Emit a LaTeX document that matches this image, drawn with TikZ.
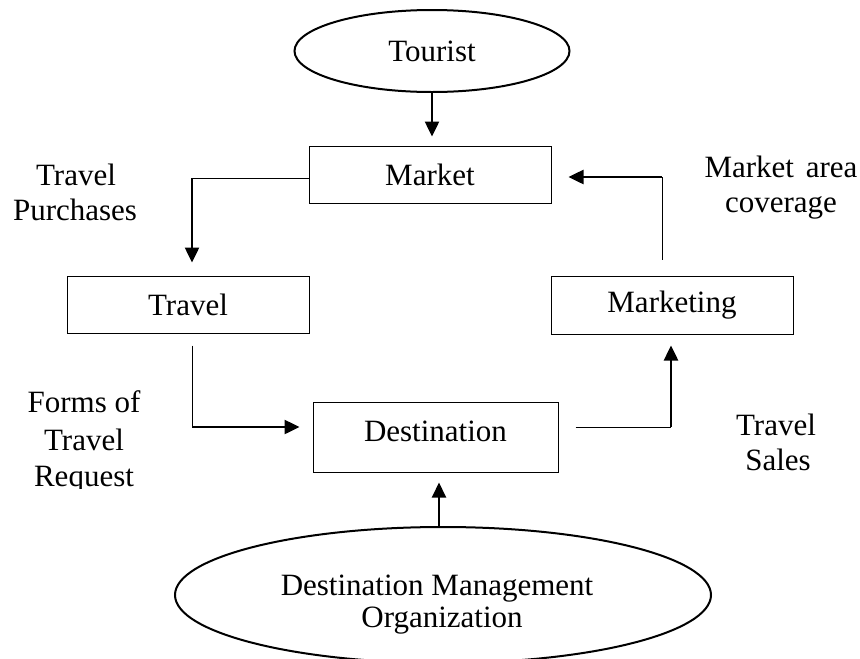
\documentclass[tikz,border=0pt]{standalone}
\usepackage{fontspec}
\setmainfont{Liberation Serif}
\usetikzlibrary{arrows.meta,shapes.geometric}
\begin{document}
\begin{tikzpicture}[x=1pt,y=-1pt,
  every node/.style={font=\fontsize{31}{35}\selectfont},
  box/.style={draw,line width=1pt,inner sep=0pt},
  oval/.style={draw,ellipse,line width=2pt,inner sep=0pt},
  lbl/.style={anchor=base,inner sep=0pt},
  thinline/.style={line width=1pt},
  arr/.style={line width=2.5pt,-{Triangle[width=14pt,length=15pt]}},
  arrm/.style={line width=2pt,-{Triangle[width=14pt,length=15pt]}}]
\useasboundingbox (0,0) rectangle (860,659);

% shapes
\node[oval,minimum width=275pt,minimum height=82pt] (tourist) at (432,51) {Tourist};
\node[box,minimum width=242pt,minimum height=57pt] (market) at (430,174.5) {Market};
\node[box,minimum width=242pt,minimum height=57pt] (travel) at (188,304.5) {Travel};
\node[box,minimum width=242pt,minimum height=58pt] (marketing) at (672,305) {Marketing};
\node[box,minimum width=245pt,minimum height=70pt,text depth=11pt] (dest) at (435.5,437) {Destination};
\node[oval,minimum width=536pt,minimum height=136pt] (dmo) at (443,595) {};
\node[lbl] (dmo1) at (437,595) {Destination Management};
\node[lbl] (dmo2) at (442,627) {Organization};

% side labels
\node[lbl] (tp1) at (76,185) {Travel};
\begin{scope}
  \clip (0,190) rectangle (200,222);
  \node[lbl] (tp2) at (75,220) {Purchases};
\end{scope}
\node[lbl] (ma1) at (781,177) {Market\hspace{4pt} area};
\node[lbl] (ma2) at (781,212) {coverage};
\node[lbl] (ft1) at (84,412) {Forms of};
\node[lbl] (ft2) at (84,450) {Travel};
\begin{scope}
  \clip (0,455) rectangle (200,488);
  \node[lbl] (ft3) at (84,486) {Request};
\end{scope}
\node[lbl] (ts1) at (776,435) {Travel};
\begin{scope}
  \clip (700,440) rectangle (860,471);
  \node[lbl] (ts2) at (778,470) {Sales};
\end{scope}

% corner points
\coordinate (c1) at (192,178);
\coordinate (c2) at (192,427);
\coordinate (c3) at (671,427);
\coordinate (c4) at (662,177);
\coordinate (d1) at (439,527);

% connectors
\draw[arr,shorten >=9pt] (tourist.south) -- (tourist.south |- market.north);

\draw[thinline] (c1 -| market.west) -- (c1);
\draw[arr,shorten >=13pt] (c1) -- (c1 |- travel.north);

\draw[thinline,shorten <=12pt] (c2 |- travel.south) -- (c2);
\draw[arr,shorten >=13pt] (c2) -- (c2 -| dest.west);

\draw[thinline,shorten <=17pt] (c3 -| dest.east) -- (c3);
\draw[arr,shorten >=11pt] (c3) -- (c3 |- marketing.south);

\draw[thinline,shorten <=16pt] (c4 |- marketing.north) -- (c4);
\draw[arr,shorten >=17pt] (c4) -- (c4 -| market.east);

\draw[arrm,shorten >=10pt] (d1) -- (d1 |- dest.south);
\end{tikzpicture}
\end{document}
